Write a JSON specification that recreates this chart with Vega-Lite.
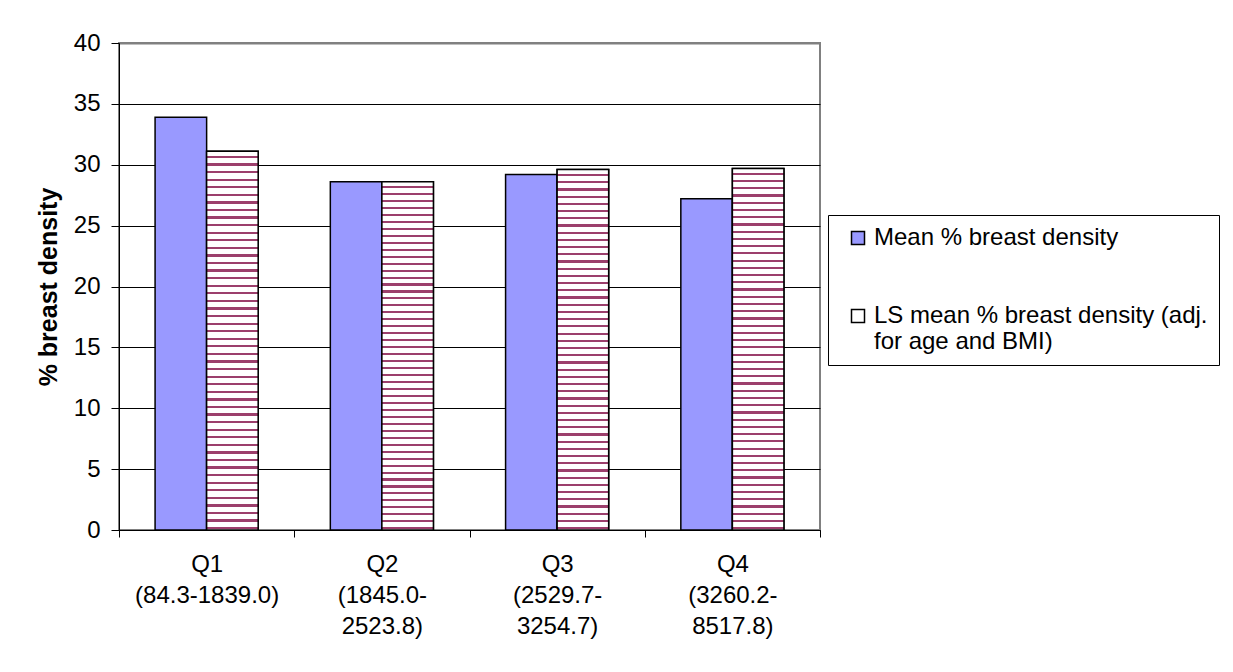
{
  "$schema": "https://vega.github.io/schema/vega-lite/v6.json",
  "width": 701,
  "height": 487,
  "autosize": {"type": "none"},
  "padding": {"left": 119, "top": 43, "right": 413, "bottom": 142},
  "background": "white",
  "config": {
    "font": "Liberation Sans",
    "view": {"stroke": "#808080", "strokeWidth": 2}
  },
  "data": {
    "values": [
      {"quartile": "Q1 (84.3-1839.0)", "measure": "Mean % breast density", "value": 33.9},
      {"quartile": "Q1 (84.3-1839.0)", "measure": "LS mean % breast density (adj. for age and BMI)", "value": 31.1},
      {"quartile": "Q2 (1845.0- 2523.8)", "measure": "Mean % breast density", "value": 28.6},
      {"quartile": "Q2 (1845.0- 2523.8)", "measure": "LS mean % breast density (adj. for age and BMI)", "value": 28.6},
      {"quartile": "Q3 (2529.7- 3254.7)", "measure": "Mean % breast density", "value": 29.2},
      {"quartile": "Q3 (2529.7- 3254.7)", "measure": "LS mean % breast density (adj. for age and BMI)", "value": 29.6},
      {"quartile": "Q4 (3260.2- 8517.8)", "measure": "Mean % breast density", "value": 27.2},
      {"quartile": "Q4 (3260.2- 8517.8)", "measure": "LS mean % breast density (adj. for age and BMI)", "value": 29.7}
    ]
  },
  "encoding": {
    "x": {
      "field": "quartile",
      "type": "nominal",
      "sort": null,
      "scale": {"paddingInner": 0, "paddingOuter": 0},
      "axis": {
        "title": null,
        "labelAngle": 0,
        "labelExpr": "split(datum.label, ' ')",
        "labelFontSize": 24,
        "labelColor": "black",
        "labelLineHeight": 31,
        "labelPadding": 15,
        "labelLimit": 0,
        "tickBand": "extent",
        "tickSize": 7,
        "tickColor": "black",
        "domainColor": "black",
        "grid": false
      }
    },
    "xOffset": {
      "field": "measure",
      "sort": ["Mean % breast density", "LS mean % breast density (adj. for age and BMI)"],
      "scale": {"paddingInner": 0, "paddingOuter": 0.7}
    },
    "y": {
      "field": "value",
      "type": "quantitative",
      "scale": {"domain": [0, 40], "nice": false},
      "axis": {
        "title": "% breast density",
        "titleFontSize": 25,
        "titleFontWeight": "bold",
        "titleColor": "black",
        "titlePadding": 12,
        "values": [0, 5, 10, 15, 20, 25, 30, 35, 40],
        "labelFontSize": 24,
        "labelColor": "black",
        "labelPadding": 11,
        "tickSize": 8,
        "tickColor": "black",
        "domainColor": "black",
        "grid": true,
        "gridColor": {"condition": {"test": "datum.value === 40", "value": "#808080"}, "value": "black"},
        "gridWidth": {"condition": {"test": "datum.value === 40", "value": 2}, "value": 1}
      }
    }
  },
  "layer": [
    {
      "mark": {"type": "bar", "stroke": "black", "strokeWidth": 1.5},
      "encoding": {
        "color": {
          "field": "measure",
          "type": "nominal",
          "scale": {
            "domain": ["Mean % breast density", "LS mean % breast density (adj. for age and BMI)"],
            "range": ["#9999ff", "#ffffff"]
          },
          "legend": {
            "title": null,
            "orient": "none",
            "legendX": 709,
            "legendY": 172,
            "strokeColor": "black",
            "fillColor": "white",
            "padding": 11,
            "symbolOffset": 7,
            "symbolType": "square",
            "symbolSize": 169,
            "labelFontSize": 24,
            "labelColor": "black",
            "labelOffset": 4,
            "labelLimit": 0,
            "rowPadding": 54,
            "labelExpr": "datum.label === 'LS mean % breast density (adj. for age and BMI)' ? ['LS mean % breast density (adj.', 'for age and BMI)'] : datum.label",
            "encode": {
              "labels": {"update": {"lineHeight": {"value": 30}}},
              "symbols": {
                "update": {
                  "stroke": {"value": "black"},
                  "strokeWidth": {"value": 1},
                  "opacity": {"value": 1},
                  "shape": [
                    {
                      "test": "datum.value === 'LS mean % breast density (adj. for age and BMI)'",
                      "value": "M-1,-1H1V1H-1Z M-1,0.1H1"
                    },
                    {"value": "square"}
                  ]
                }
              }
            }
          }
        }
      }
    },
    {
      "transform": [{"filter": "datum.measure !== 'Mean % breast density'"}],
      "mark": {
        "type": "bar",
        "stroke": "black",
        "strokeWidth": 1.5,
        "fill": {
          "gradient": "linear", "x1": 0, "y1": 0, "x2": 0, "y2": 1,
          "stops": [
            {"offset": 0, "color": "#ffffff"},
            {"offset": 0.012, "color": "#ffffff"}, {"offset": 0.012, "color": "#9c3f6c"}, {"offset": 0.018, "color": "#9c3f6c"}, {"offset": 0.018, "color": "#ffffff"},
            {"offset": 0.032, "color": "#ffffff"}, {"offset": 0.032, "color": "#9c3f6c"}, {"offset": 0.038, "color": "#9c3f6c"}, {"offset": 0.038, "color": "#ffffff"},
            {"offset": 0.052, "color": "#ffffff"}, {"offset": 0.052, "color": "#9c3f6c"}, {"offset": 0.058, "color": "#9c3f6c"}, {"offset": 0.058, "color": "#ffffff"},
            {"offset": 0.072, "color": "#ffffff"}, {"offset": 0.072, "color": "#9c3f6c"}, {"offset": 0.078, "color": "#9c3f6c"}, {"offset": 0.078, "color": "#ffffff"},
            {"offset": 0.092, "color": "#ffffff"}, {"offset": 0.092, "color": "#9c3f6c"}, {"offset": 0.098, "color": "#9c3f6c"}, {"offset": 0.098, "color": "#ffffff"},
            {"offset": 0.112, "color": "#ffffff"}, {"offset": 0.112, "color": "#9c3f6c"}, {"offset": 0.118, "color": "#9c3f6c"}, {"offset": 0.118, "color": "#ffffff"},
            {"offset": 0.132, "color": "#ffffff"}, {"offset": 0.132, "color": "#9c3f6c"}, {"offset": 0.138, "color": "#9c3f6c"}, {"offset": 0.138, "color": "#ffffff"},
            {"offset": 0.152, "color": "#ffffff"}, {"offset": 0.152, "color": "#9c3f6c"}, {"offset": 0.158, "color": "#9c3f6c"}, {"offset": 0.158, "color": "#ffffff"},
            {"offset": 0.172, "color": "#ffffff"}, {"offset": 0.172, "color": "#9c3f6c"}, {"offset": 0.178, "color": "#9c3f6c"}, {"offset": 0.178, "color": "#ffffff"},
            {"offset": 0.192, "color": "#ffffff"}, {"offset": 0.192, "color": "#9c3f6c"}, {"offset": 0.198, "color": "#9c3f6c"}, {"offset": 0.198, "color": "#ffffff"},
            {"offset": 0.212, "color": "#ffffff"}, {"offset": 0.212, "color": "#9c3f6c"}, {"offset": 0.218, "color": "#9c3f6c"}, {"offset": 0.218, "color": "#ffffff"},
            {"offset": 0.232, "color": "#ffffff"}, {"offset": 0.232, "color": "#9c3f6c"}, {"offset": 0.238, "color": "#9c3f6c"}, {"offset": 0.238, "color": "#ffffff"},
            {"offset": 0.252, "color": "#ffffff"}, {"offset": 0.252, "color": "#9c3f6c"}, {"offset": 0.258, "color": "#9c3f6c"}, {"offset": 0.258, "color": "#ffffff"},
            {"offset": 0.272, "color": "#ffffff"}, {"offset": 0.272, "color": "#9c3f6c"}, {"offset": 0.278, "color": "#9c3f6c"}, {"offset": 0.278, "color": "#ffffff"},
            {"offset": 0.292, "color": "#ffffff"}, {"offset": 0.292, "color": "#9c3f6c"}, {"offset": 0.298, "color": "#9c3f6c"}, {"offset": 0.298, "color": "#ffffff"},
            {"offset": 0.312, "color": "#ffffff"}, {"offset": 0.312, "color": "#9c3f6c"}, {"offset": 0.318, "color": "#9c3f6c"}, {"offset": 0.318, "color": "#ffffff"},
            {"offset": 0.332, "color": "#ffffff"}, {"offset": 0.332, "color": "#9c3f6c"}, {"offset": 0.338, "color": "#9c3f6c"}, {"offset": 0.338, "color": "#ffffff"},
            {"offset": 0.352, "color": "#ffffff"}, {"offset": 0.352, "color": "#9c3f6c"}, {"offset": 0.358, "color": "#9c3f6c"}, {"offset": 0.358, "color": "#ffffff"},
            {"offset": 0.372, "color": "#ffffff"}, {"offset": 0.372, "color": "#9c3f6c"}, {"offset": 0.378, "color": "#9c3f6c"}, {"offset": 0.378, "color": "#ffffff"},
            {"offset": 0.392, "color": "#ffffff"}, {"offset": 0.392, "color": "#9c3f6c"}, {"offset": 0.398, "color": "#9c3f6c"}, {"offset": 0.398, "color": "#ffffff"},
            {"offset": 0.412, "color": "#ffffff"}, {"offset": 0.412, "color": "#9c3f6c"}, {"offset": 0.418, "color": "#9c3f6c"}, {"offset": 0.418, "color": "#ffffff"},
            {"offset": 0.432, "color": "#ffffff"}, {"offset": 0.432, "color": "#9c3f6c"}, {"offset": 0.438, "color": "#9c3f6c"}, {"offset": 0.438, "color": "#ffffff"},
            {"offset": 0.452, "color": "#ffffff"}, {"offset": 0.452, "color": "#9c3f6c"}, {"offset": 0.458, "color": "#9c3f6c"}, {"offset": 0.458, "color": "#ffffff"},
            {"offset": 0.472, "color": "#ffffff"}, {"offset": 0.472, "color": "#9c3f6c"}, {"offset": 0.478, "color": "#9c3f6c"}, {"offset": 0.478, "color": "#ffffff"},
            {"offset": 0.492, "color": "#ffffff"}, {"offset": 0.492, "color": "#9c3f6c"}, {"offset": 0.498, "color": "#9c3f6c"}, {"offset": 0.498, "color": "#ffffff"},
            {"offset": 0.512, "color": "#ffffff"}, {"offset": 0.512, "color": "#9c3f6c"}, {"offset": 0.518, "color": "#9c3f6c"}, {"offset": 0.518, "color": "#ffffff"},
            {"offset": 0.532, "color": "#ffffff"}, {"offset": 0.532, "color": "#9c3f6c"}, {"offset": 0.538, "color": "#9c3f6c"}, {"offset": 0.538, "color": "#ffffff"},
            {"offset": 0.552, "color": "#ffffff"}, {"offset": 0.552, "color": "#9c3f6c"}, {"offset": 0.558, "color": "#9c3f6c"}, {"offset": 0.558, "color": "#ffffff"},
            {"offset": 0.572, "color": "#ffffff"}, {"offset": 0.572, "color": "#9c3f6c"}, {"offset": 0.578, "color": "#9c3f6c"}, {"offset": 0.578, "color": "#ffffff"},
            {"offset": 0.592, "color": "#ffffff"}, {"offset": 0.592, "color": "#9c3f6c"}, {"offset": 0.598, "color": "#9c3f6c"}, {"offset": 0.598, "color": "#ffffff"},
            {"offset": 0.612, "color": "#ffffff"}, {"offset": 0.612, "color": "#9c3f6c"}, {"offset": 0.618, "color": "#9c3f6c"}, {"offset": 0.618, "color": "#ffffff"},
            {"offset": 0.632, "color": "#ffffff"}, {"offset": 0.632, "color": "#9c3f6c"}, {"offset": 0.638, "color": "#9c3f6c"}, {"offset": 0.638, "color": "#ffffff"},
            {"offset": 0.652, "color": "#ffffff"}, {"offset": 0.652, "color": "#9c3f6c"}, {"offset": 0.658, "color": "#9c3f6c"}, {"offset": 0.658, "color": "#ffffff"},
            {"offset": 0.672, "color": "#ffffff"}, {"offset": 0.672, "color": "#9c3f6c"}, {"offset": 0.678, "color": "#9c3f6c"}, {"offset": 0.678, "color": "#ffffff"},
            {"offset": 0.692, "color": "#ffffff"}, {"offset": 0.692, "color": "#9c3f6c"}, {"offset": 0.698, "color": "#9c3f6c"}, {"offset": 0.698, "color": "#ffffff"},
            {"offset": 0.712, "color": "#ffffff"}, {"offset": 0.712, "color": "#9c3f6c"}, {"offset": 0.718, "color": "#9c3f6c"}, {"offset": 0.718, "color": "#ffffff"},
            {"offset": 0.732, "color": "#ffffff"}, {"offset": 0.732, "color": "#9c3f6c"}, {"offset": 0.738, "color": "#9c3f6c"}, {"offset": 0.738, "color": "#ffffff"},
            {"offset": 0.752, "color": "#ffffff"}, {"offset": 0.752, "color": "#9c3f6c"}, {"offset": 0.758, "color": "#9c3f6c"}, {"offset": 0.758, "color": "#ffffff"},
            {"offset": 0.772, "color": "#ffffff"}, {"offset": 0.772, "color": "#9c3f6c"}, {"offset": 0.778, "color": "#9c3f6c"}, {"offset": 0.778, "color": "#ffffff"},
            {"offset": 0.792, "color": "#ffffff"}, {"offset": 0.792, "color": "#9c3f6c"}, {"offset": 0.798, "color": "#9c3f6c"}, {"offset": 0.798, "color": "#ffffff"},
            {"offset": 0.812, "color": "#ffffff"}, {"offset": 0.812, "color": "#9c3f6c"}, {"offset": 0.818, "color": "#9c3f6c"}, {"offset": 0.818, "color": "#ffffff"},
            {"offset": 0.832, "color": "#ffffff"}, {"offset": 0.832, "color": "#9c3f6c"}, {"offset": 0.838, "color": "#9c3f6c"}, {"offset": 0.838, "color": "#ffffff"},
            {"offset": 0.852, "color": "#ffffff"}, {"offset": 0.852, "color": "#9c3f6c"}, {"offset": 0.858, "color": "#9c3f6c"}, {"offset": 0.858, "color": "#ffffff"},
            {"offset": 0.872, "color": "#ffffff"}, {"offset": 0.872, "color": "#9c3f6c"}, {"offset": 0.878, "color": "#9c3f6c"}, {"offset": 0.878, "color": "#ffffff"},
            {"offset": 0.892, "color": "#ffffff"}, {"offset": 0.892, "color": "#9c3f6c"}, {"offset": 0.898, "color": "#9c3f6c"}, {"offset": 0.898, "color": "#ffffff"},
            {"offset": 0.912, "color": "#ffffff"}, {"offset": 0.912, "color": "#9c3f6c"}, {"offset": 0.918, "color": "#9c3f6c"}, {"offset": 0.918, "color": "#ffffff"},
            {"offset": 0.932, "color": "#ffffff"}, {"offset": 0.932, "color": "#9c3f6c"}, {"offset": 0.938, "color": "#9c3f6c"}, {"offset": 0.938, "color": "#ffffff"},
            {"offset": 0.952, "color": "#ffffff"}, {"offset": 0.952, "color": "#9c3f6c"}, {"offset": 0.958, "color": "#9c3f6c"}, {"offset": 0.958, "color": "#ffffff"},
            {"offset": 0.972, "color": "#ffffff"}, {"offset": 0.972, "color": "#9c3f6c"}, {"offset": 0.978, "color": "#9c3f6c"}, {"offset": 0.978, "color": "#ffffff"},
            {"offset": 0.992, "color": "#ffffff"}, {"offset": 0.992, "color": "#9c3f6c"}, {"offset": 0.998, "color": "#9c3f6c"}, {"offset": 0.998, "color": "#ffffff"},
            {"offset": 1, "color": "#ffffff"}
          ]
        }
      }
    }
  ]
}
